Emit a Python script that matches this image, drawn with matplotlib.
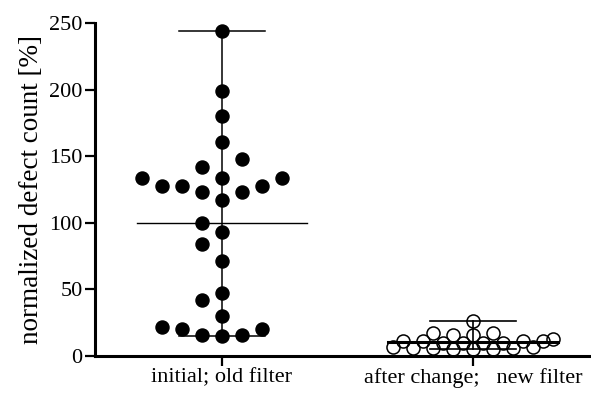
import numpy as np
import matplotlib.pyplot as plt

# defect counts relative to baseline, one value per lot
old_filter = [244, 199, 180, 161, 148, 142, 134, 134, 134, 128, 128, 128,
              123, 123, 117, 100, 93, 84, 71, 47, 42, 30, 22, 20, 20, 16, 16, 15]
new_filter = [26, 17, 17, 16, 16, 13, 11, 11, 11, 11, 10, 10, 10, 10,
              7, 7, 6, 6, 6, 5, 5, 5]
group_labels = ["initial; old filter", "after change;   new filter"]
y_ticks = [0, 50, 100, 150, 200, 250]

plt.rcParams["font.family"] = ["Liberation Serif", "DejaVu Serif"]

fig = plt.figure(figsize=(5.91, 3.94), dpi=100)
ax = fig.add_axes([0.1607, 0.0964, 0.8393, 0.8452])
ax.set_xlim(0.494, 2.47)
ax.set_ylim(0, 250)


def swarm(values, ax, xc, min_dist, step):
    """Greedy beeswarm: push each point sideways until it clears the others."""
    trans = ax.transData
    placed = []
    xs = {}
    order = np.argsort(values, kind="stable")
    for i in order:
        v = values[i]
        cx, py = trans.transform((xc, v))
        for k in [0, -1, 1, -2, 2, -3, 3, -4, 4, -5, 5, -6, 6, -7, 7, -8, 8]:
            px = cx + k * step
            if all(np.hypot(px - qx, py - qy) >= min_dist for qx, qy in placed):
                break
        placed.append((px, py))
        xs[i] = trans.inverted().transform((px, py))[0]
    return [xs[i] for i in range(len(values))]


def range_bars(ax, xc, values, mean_w, cap_w, lw, mean_lw):
    lo, hi, mu = min(values), max(values), np.mean(values)
    ax.plot([xc, xc], [lo, hi], color="black", lw=lw, zorder=2)
    ax.plot([xc - cap_w, xc + cap_w], [lo, lo], color="black", lw=lw, zorder=2)
    ax.plot([xc - cap_w, xc + cap_w], [hi, hi], color="black", lw=lw, zorder=2)
    ax.plot([xc - mean_w, xc + mean_w], [mu, mu], color="black", lw=mean_lw, zorder=2)


fig.canvas.draw()
x1 = swarm(old_filter, ax, 1, 19.5, 20)
x2 = swarm(new_filter, ax, 2, 11.0, 10)

range_bars(ax, 1, old_filter, 0.337, 0.17, 1.1, 1.0)
range_bars(ax, 2, new_filter, 0.337, 0.17, 1.2, 2.2)

ax.plot(x1, old_filter, "o", ms=9.4, color="black", zorder=3)
ax.plot(x2, new_filter, "o", ms=9.4, mfc="none", mec="black", mew=1.1, zorder=3)

for side in ["top", "right"]:
    ax.spines[side].set_visible(False)
for side in ["left", "bottom"]:
    ax.spines[side].set_linewidth(2.2)
ax.set_yticks(y_ticks)
ax.set_xticks([1, 2])
ax.set_xticklabels(group_labels)
ax.tick_params(axis="both", width=1.6, length=7, labelsize=16, pad=2)
ax.set_ylabel("normalized defect count [%]", fontsize=19.5, labelpad=4)

fig.savefig("out.png", dpi=100)
